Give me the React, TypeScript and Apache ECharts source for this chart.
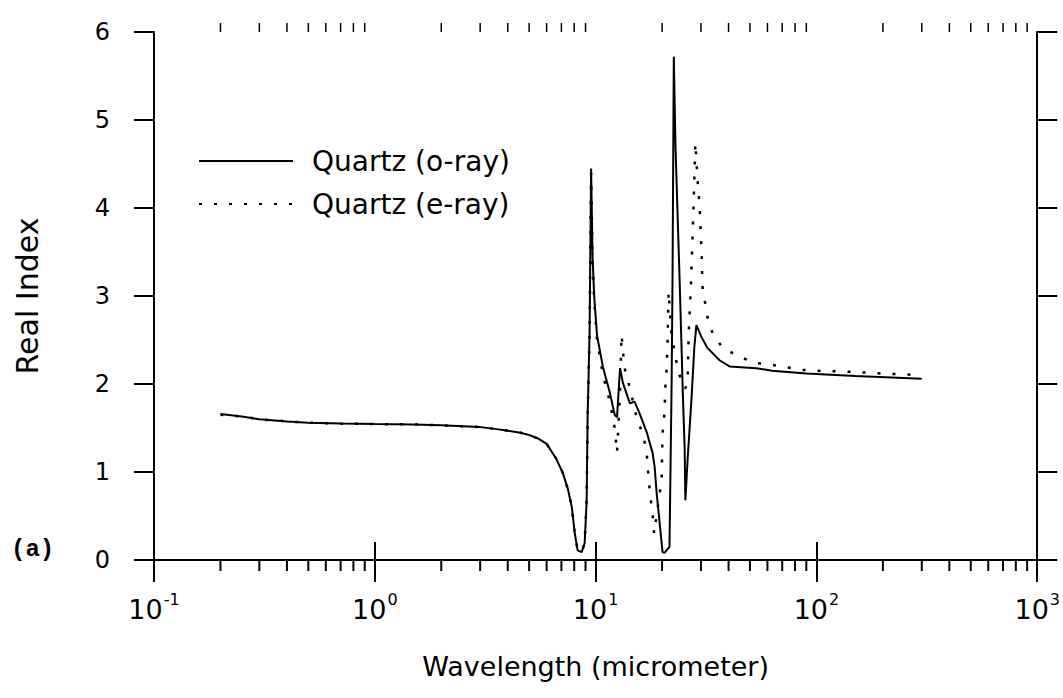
import React, { useEffect, useRef } from "react";
import * as echarts from "echarts";

// Quartz ordinary ray (solid)
const oRayWavelength = [
  0.2, 0.25, 0.3, 0.4, 0.5, 0.7, 1.0, 1.5, 2.0, 2.5, 3.0, 3.5, 4.0, 4.5, 5.0, 5.5,
  6.0, 6.6, 7.1, 7.5, 7.8, 8.04, 8.29, 8.65, 8.92, 9.11, 9.2, 9.39, 9.54, 9.69, 9.85,
  10.15, 10.8, 11.6, 12.2, 12.5, 12.9, 13.3, 14.3, 15.0, 15.8, 17.0, 18.1, 18.5, 18.9,
  19.5, 20.1, 20.5, 21.6, 21.8, 22.1, 22.3, 22.6, 23.0, 24.0, 24.5, 24.8, 25.3, 25.5,
  26.1, 27.2, 28.0, 28.6, 30.2, 32.1, 36.4, 40.4, 53.5, 63, 90, 150, 300,
];
const oRayIndex = [
  1.66, 1.63, 1.6, 1.575, 1.56, 1.55, 1.545, 1.54, 1.53, 1.52, 1.51, 1.49, 1.47, 1.45, 1.42, 1.38,
  1.32, 1.16, 0.99, 0.8, 0.6, 0.31, 0.11, 0.09, 0.19, 0.68, 1.63, 2.58, 4.45, 3.44, 3.0,
  2.55, 2.19, 1.9, 1.65, 1.62, 2.18, 2.01, 1.78, 1.8, 1.67, 1.46, 1.22, 1.06, 0.76,
  0.42, 0.09, 0.08, 0.15, 0.9, 2.05, 3.2, 5.72, 4.7, 3.2, 2.42, 1.93, 1.28, 0.68,
  1.14, 1.85, 2.42, 2.67, 2.53, 2.41, 2.27, 2.2, 2.18, 2.15, 2.12, 2.09, 2.06,
];

// Quartz extraordinary ray (dotted)
const eRayWavelength = [
  0.2, 0.25, 0.3, 0.4, 0.5, 0.7, 1.0, 1.5, 2.0, 2.5, 3.0, 3.5, 4.0, 4.5, 5.0, 5.5,
  6.0, 6.6, 7.1, 7.5, 7.8, 8.04, 8.29, 8.65, 8.92, 9.11, 9.2, 9.39, 9.54, 9.69, 9.85,
  10.15, 10.8, 11.6, 12.2, 12.5, 12.9, 13.1, 13.5, 14.3, 15.3, 16.3, 17.0, 17.4, 17.7,
  18.1, 18.4, 19.9, 20.1, 20.5, 20.7, 21.0, 21.2, 21.4, 22.0, 23.0, 24.0, 24.8, 25.5,
  26.1, 26.4, 27.0, 27.7, 28.3, 28.9, 29.6, 30.2, 30.5, 32.1, 33.8, 37.6, 44.9, 52.4,
  62.5, 73, 86.5, 101, 141, 197, 300,
];
const eRayIndex = [
  1.65, 1.63, 1.6, 1.575, 1.56, 1.55, 1.545, 1.54, 1.53, 1.52, 1.51, 1.49, 1.47, 1.45, 1.42, 1.38,
  1.32, 1.16, 0.99, 0.8, 0.6, 0.31, 0.11, 0.09, 0.2, 0.7, 1.6, 2.6, 4.4, 3.4, 2.95,
  2.5, 2.1, 1.8, 1.5, 1.22, 1.9, 2.56, 2.19, 1.95, 1.63, 1.44, 1.25, 0.91, 0.72,
  0.53, 0.3, 0.91, 1.44, 1.67, 1.97, 2.19, 2.53, 3.05, 2.6, 2.3, 2.1, 1.97, 1.95,
  2.05, 2.58, 3.1, 3.95, 4.74, 4.35, 4.0, 3.49, 3.1, 2.76, 2.58, 2.41, 2.31, 2.24,
  2.22, 2.19, 2.16, 2.15, 2.14, 2.12, 2.1,
];

const seriesNames = ["Quartz (o-ray)", "Quartz (e-ray)"];
const minorTickValues = [
  0.2, 0.3, 0.4, 0.5, 0.6, 0.7, 0.8, 0.9,
  2, 3, 4, 5, 6, 7, 8, 9,
  20, 30, 40, 50, 60, 70, 80, 90,
  200, 300, 400, 500, 600, 700, 800, 900,
];
const xMin = 0.1;
const xMax = 1000;
const yMin = 0;
const yMax = 6;

const FONT = "DejaVu Sans";

export default function App() {
  const ref = useRef<HTMLDivElement>(null);
  useEffect(() => {
    const chart = echarts.init(ref.current!, null, { renderer: "svg" });
    const supLabel = (v: number) => `{b|10}{s|${Math.round(Math.log10(v))}}`;
    const axisColor = "#000";
    chart.setOption({
      animation: false,
      backgroundColor: "#fff",
      grid: { left: 154, right: 25, top: 32, bottom: 138 },
      legend: {
        data: seriesNames,
        orient: "vertical",
        left: 193,
        top: 142,
        itemWidth: 94,
        itemHeight: 14,
        itemGap: 15,
        itemStyle: { color: "rgba(0,0,0,0)", borderWidth: 0, opacity: 0 },
        textStyle: { fontFamily: FONT, fontSize: 28, color: "#000", padding: [0, 0, 0, 14] },
      },
      graphic: [
        {
          type: "text",
          left: 11,
          top: 537,
          style: { text: "(a)", font: 'bold 24px "Liberation Mono"', fill: "#000" },
        },
      ],
      xAxis: [
        {
          type: "log",
          logBase: 10,
          min: xMin,
          max: xMax,
          position: "bottom",
          name: "Wavelength (micrometer)",
          nameLocation: "middle",
          nameGap: 93,
          nameTextStyle: { fontFamily: FONT, fontSize: 27, color: "#000" },
          axisLine: { lineStyle: { color: axisColor, width: 2 } },
          axisTick: { show: true, inside: false, length: 22, lineStyle: { color: axisColor, width: 2 } },
          axisLabel: {
            formatter: supLabel,
            margin: 31,
            color: "#000",
            rich: {
              b: { fontFamily: FONT, fontSize: 27, color: "#000", lineHeight: 32, verticalAlign: "bottom" },
              s: { fontFamily: FONT, fontSize: 16, color: "#000", lineHeight: 32, verticalAlign: "top", padding: [0, 0, 0, 1] },
            },
          },
          splitLine: { show: false },
        },
        {
          type: "log",
          logBase: 10,
          min: xMin,
          max: xMax,
          position: "top",
          axisLine: { lineStyle: { color: axisColor, width: 1.5 } },
          axisTick: { show: true, inside: false, length: 18, lineStyle: { color: axisColor, width: 2 } },
          axisLabel: { show: false },
          splitLine: { show: false },
        },
      ],
      yAxis: [
        {
          type: "value",
          min: yMin,
          max: yMax,
          interval: 1,
          position: "left",
          name: "Real Index",
          nameLocation: "middle",
          nameGap: 112,
          nameTextStyle: { fontFamily: FONT, fontSize: 30, color: "#000" },
          axisLine: { show: true, lineStyle: { color: axisColor, width: 2 } },
          axisTick: { show: true, inside: false, length: 20, lineStyle: { color: axisColor, width: 2 } },
          axisLabel: { margin: 44, fontFamily: FONT, fontSize: 24, color: "#000", lineHeight: 24, padding: [0, 0, 12, 0] },
          splitLine: { show: false },
        },
        {
          type: "value",
          min: yMin,
          max: yMax,
          interval: 1,
          position: "right",
          axisLine: { show: true, lineStyle: { color: axisColor, width: 2 } },
          axisTick: { show: true, inside: false, length: 20, lineStyle: { color: axisColor, width: 2 } },
          axisLabel: { show: false },
          splitLine: { show: false },
        },
      ],
      series: [
        {
          name: seriesNames[0],
          type: "line",
          xAxisIndex: 0,
          yAxisIndex: 0,
          data: oRayWavelength.map((w, i) => [w, oRayIndex[i]]),
          symbol: "none",
          showSymbol: false,
          smooth: false,
          lineStyle: { color: "#000", width: 2 },
          itemStyle: { color: "#000" },
          z: 3,
        },
        {
          name: seriesNames[1],
          type: "line",
          xAxisIndex: 0,
          yAxisIndex: 0,
          data: eRayWavelength.map((w, i) => [w, eRayIndex[i]]),
          symbol: "none",
          showSymbol: false,
          smooth: false,
          lineStyle: { color: "#000", width: 2.5, type: [3, 12] },
          itemStyle: { color: "#000" },
          z: 2,
        },
        {
          name: "minor ticks",
          type: "custom",
          xAxisIndex: 0,
          yAxisIndex: 0,
          silent: true,
          clip: false,
          data: minorTickValues.map((v) => [v, yMin]),
          renderItem: (_params: any, api: any) => {
            const x = api.value(0);
            const b = api.coord([x, yMin]);
            const t = api.coord([x, yMax]);
            return {
              type: "group",
              children: [
                { type: "line", shape: { x1: b[0], y1: b[1], x2: b[0], y2: b[1] + 11 }, style: { stroke: "#000", lineWidth: 2 } },
                { type: "line", shape: { x1: t[0], y1: t[1], x2: t[0], y2: t[1] - 9 }, style: { stroke: "#000", lineWidth: 1.5 } },
              ],
            };
          },
        },
      ],
    });
    return () => chart.dispose();
  }, []);
  return (
    <div
      ref={ref}
      style={{ position: "absolute", left: 0, top: 0, width: 1063, height: 698, background: "#fff" }}
    />
  );
}
